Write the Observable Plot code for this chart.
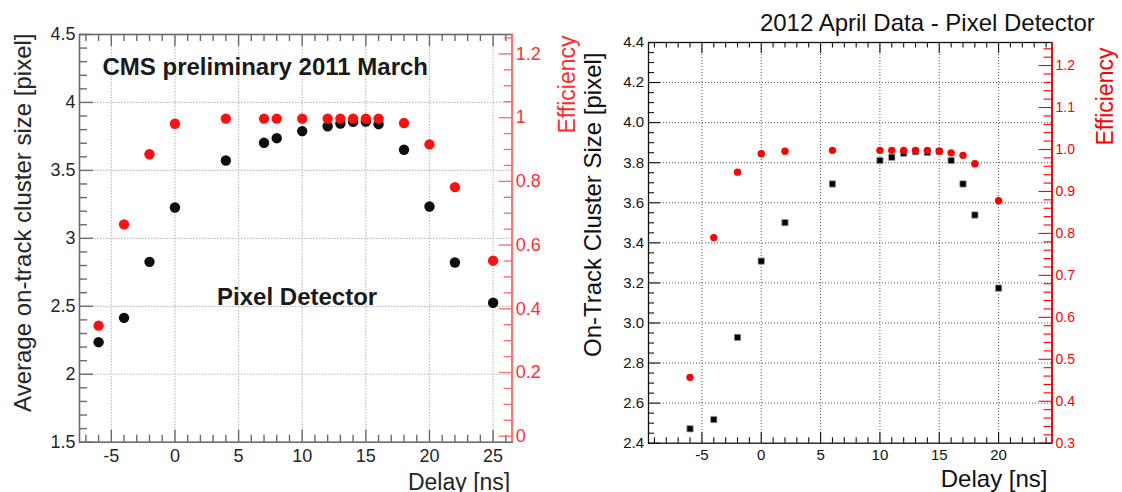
<!DOCTYPE html>
<html>
<head>
<meta charset="utf-8">
<script src="https://cdn.jsdelivr.net/npm/d3@7"></script>
<script src="https://cdn.jsdelivr.net/npm/@observablehq/plot@0.6"></script>
<style>
  body { margin: 0; background: #fff; }
  #wrap { position: relative; width: 1122px; height: 492px; overflow: hidden; background: #fff; }
</style>
</head>
<body>
<div id="wrap"></div>
<script>
// ---------------- Left panel (2011 March) ----------------
const leftDelay   = [-6, -4, -2, 0, 4, 7, 8, 10, 12, 13, 14, 15, 16, 18, 20, 22, 25];
const leftCluster = [2.236, 2.415, 2.827, 3.227, 3.573, 3.703, 3.737, 3.789, 3.825, 3.845, 3.857, 3.86, 3.84, 3.652, 3.234, 2.822, 2.526];
const leftEff     = [0.347, 0.665, 0.885, 0.981, 0.997, 0.997, 0.997, 0.997, 0.997, 0.997, 0.997, 0.997, 0.997, 0.983, 0.916, 0.782, 0.551];

const leftXDomain   = [-7.5, 26.5];
const leftYDomain   = [1.5, 4.5];
const leftEffDomain = [-0.0188, 1.261];
const leftXTicks    = [-5, 0, 5, 10, 15, 20, 25];
const leftXLabels   = ["-5", "0", "5", "10", "15", "20", "25"];
const leftYTicks    = [1.5, 2, 2.5, 3, 3.5, 4, 4.5];
const leftYLabels   = ["1.5", "2", "2.5", "3", "3.5", "4", "4.5"];
const leftEffTicks  = [0, 0.2, 0.4, 0.6, 0.8, 1, 1.2];
const leftEffLabels = ["0", "0.2", "0.4", "0.6", "0.8", "1", "1.2"];

// ---------------- Right panel (2012 April) ----------------
const rightDelay   = [-6, -4, -2, 0, 2, 6, 10, 11, 12, 13, 14, 15, 16, 17, 18, 20];
const rightCluster = [2.472, 2.518, 2.928, 3.309, 3.501, 3.694, 3.811, 3.827, 3.847, 3.855, 3.851, 3.857, 3.811, 3.694, 3.539, 3.174];
const rightEff     = [0.457, 0.790, 0.946, 0.990, 0.996, 0.998, 0.998, 0.998, 0.998, 0.998, 0.998, 0.996, 0.992, 0.986, 0.966, 0.878];

const rightXDomain   = [-9.5, 24.5];
const rightYDomain   = [2.4, 4.4];
const rightEffDomain = [0.3, 1.255];
const rightXTicks    = [-5, 0, 5, 10, 15, 20];
const rightXLabels   = ["-5", "0", "5", "10", "15", "20"];
const rightYTicks    = [2.4, 2.6, 2.8, 3.0, 3.2, 3.4, 3.6, 3.8, 4.0, 4.2, 4.4];
const rightYLabels   = ["2.4", "2.6", "2.8", "3.0", "3.2", "3.4", "3.6", "3.8", "4.0", "4.2", "4.4"];
const rightEffTicks  = [0.3, 0.4, 0.5, 0.6, 0.7, 0.8, 0.9, 1.0, 1.1, 1.2];
const rightEffLabels = ["0.3", "0.4", "0.5", "0.6", "0.7", "0.8", "0.9", "1.0", "1.1", "1.2"];

const FONT = "'Liberation Sans', Arial, Helvetica, sans-serif";

function panel(c) {
  const fw = c.width - c.ml - c.mr;
  const fh = c.height - c.mt - c.mb;
  const e2y = d3.scaleLinear().domain(c.effDomain).range(c.yDomain);
  const inX = v => v > c.xDomain[0] && v < c.xDomain[1];
  const inY = v => v > c.yDomain[0] && v < c.yDomain[1];
  const idx = d3.range(c.delay.length);
  const marks = [
    // dotted grid
    Plot.ruleX(c.xTicks.filter(inX), {x: d => d, stroke: c.gridColor, strokeDasharray: c.gridDash, strokeWidth: c.gridWidth}),
    Plot.ruleY(c.yTicks.filter(inY), {y: d => d, stroke: c.gridColor, strokeDasharray: c.gridDash, strokeWidth: c.gridWidth}),
    // ticks (inside the frame, ROOT style)
    Plot.tickX(c.xTicks, {x: d => d, insetTop: fh - c.tk.xMajor, stroke: c.axisColor, strokeWidth: c.tickWidth}),
    Plot.tickX(c.xMinor, {x: d => d, insetTop: fh - c.tk.xMinor, stroke: c.axisColor, strokeWidth: c.tickWidth}),
    Plot.tickX(c.xTicks, {x: d => d, insetBottom: fh - c.tk.xMajor, stroke: c.axisColor, strokeWidth: c.tickWidth}),
    Plot.tickX(c.xMinor, {x: d => d, insetBottom: fh - c.tk.xMinor, stroke: c.axisColor, strokeWidth: c.tickWidth}),
    Plot.tickY(c.yTicks, {y: d => d, insetRight: fw - c.tk.yMajor, stroke: c.axisColor, strokeWidth: c.tickWidth}),
    Plot.tickY(c.yMinor, {y: d => d, insetRight: fw - c.tk.yMinor, stroke: c.axisColor, strokeWidth: c.tickWidth}),
    Plot.tickY(c.effTicks, {y: d => e2y(d), insetLeft: fw - c.tk.eMajor, stroke: c.effAxisColor, strokeWidth: c.tickWidth}),
    Plot.tickY(c.effMinor, {y: d => e2y(d), insetLeft: fw - c.tk.eMinor, stroke: c.effAxisColor, strokeWidth: c.tickWidth}),
    // frame
    Plot.frame({stroke: c.axisColor, strokeWidth: c.frameWidth}),
    Plot.ruleX([c.xDomain[1]], {x: d => d, stroke: c.effAxisColor, strokeWidth: c.frameWidth + 0.3}),
    // tick labels
    Plot.text(c.xTicks, {x: d => d, text: (d, i) => c.xLabels[i], frameAnchor: "bottom", lineAnchor: "top", dy: c.xLabelPad, fontSize: c.tickFont, fill: c.textColor}),
    Plot.text(c.yTicks, {y: d => d, text: (d, i) => c.yLabels[i], frameAnchor: "left", textAnchor: "end", lineAnchor: "middle", dx: -c.yLabelPad, fontSize: c.tickFont, fill: c.textColor}),
    Plot.text(c.effTicks, {y: d => e2y(d), text: (d, i) => c.effLabels[i], frameAnchor: "right", textAnchor: "start", lineAnchor: "middle", dx: c.effLabelPad, fontSize: c.effTickFont, fill: c.effTextColor}),
    // data
    Plot.dot(idx, {x: i => c.delay[i], y: i => c.cluster[i], r: c.blackR, symbol: c.blackSymbol, fill: c.blackFill, stroke: c.blackStroke, strokeWidth: c.blackStrokeWidth}),
    Plot.dot(idx, {x: i => c.delay[i], y: i => e2y(c.eff[i]), r: c.redR, symbol: "circle", fill: c.redFill}),
    // axis titles
    Plot.text([c.xTitle], {text: d => d, frameAnchor: "bottom-right", textAnchor: "end", lineAnchor: "middle", dx: c.xTitlePos[0], dy: c.xTitlePos[1], fontSize: c.titleFont, fill: c.textColor}),
    Plot.text([c.yTitle], {text: d => d, frameAnchor: "top-left", textAnchor: "end", lineAnchor: "middle", rotate: -90, dx: c.yTitlePos[0], dy: c.yTitlePos[1], fontSize: c.yTitleFont, fill: c.textColor}),
    Plot.text(["Efficiency"], {text: d => d, frameAnchor: "top-right", textAnchor: "end", lineAnchor: "middle", rotate: -90, dx: c.effTitlePos[0], dy: c.effTitlePos[1], fontSize: c.effTitleFont, fill: c.effTitleColor}),
    ...c.extra.map(t => Plot.text([t.text], {text: d => d, frameAnchor: "top-left", textAnchor: t.anchor || "start", lineAnchor: "middle", dx: t.dx, dy: t.dy, fontSize: t.size, fontWeight: t.weight || "normal", fill: t.fill || c.textColor}))
  ];
  const svg = Plot.plot({
    width: c.width, height: c.height,
    marginLeft: c.ml, marginRight: c.mr, marginTop: c.mt, marginBottom: c.mb,
    x: {domain: c.xDomain, axis: null},
    y: {domain: c.yDomain, axis: null},
    style: {fontFamily: FONT, background: "none", overflow: "visible", position: "absolute", left: c.left + "px", top: "0px", maxWidth: "none"},
    marks
  });
  return svg;
}

const wrap = document.getElementById("wrap");

wrap.appendChild(panel({
  left: 0, width: 590, height: 492, ml: 79, mr: 78.3, mt: 34, mb: 50.3,
  xDomain: leftXDomain, yDomain: leftYDomain, effDomain: leftEffDomain,
  xTicks: leftXTicks, xLabels: leftXLabels, yTicks: leftYTicks, yLabels: leftYLabels,
  effTicks: leftEffTicks, effLabels: leftEffLabels,
  xMinor: d3.range(-7, 27).filter(v => v % 5 !== 0),
  yMinor: d3.range(15, 46).filter(v => v % 5 !== 0).map(v => v / 10),
  effMinor: d3.range(0, 26).filter(v => v % 4 !== 0).map(v => v * 0.05),
  tk: {xMajor: 12, xMinor: 7, yMajor: 14, yMinor: 8, eMajor: 13, eMinor: 8},
  gridColor: "#bdbdbd", gridDash: "1.5,1.5", gridWidth: 1.2,
  axisColor: "#6a6a6a", effAxisColor: "#ff7070", frameWidth: 1.6, tickWidth: 1.4,
  textColor: "#262626", effTextColor: "#ff3030", effTitleColor: "#ff2a2a",
  tickFont: 18, effTickFont: 18, xLabelPad: 7, yLabelPad: 4, effLabelPad: 3.5,
  delay: leftDelay, cluster: leftCluster, eff: leftEff,
  blackR: 5.2, blackSymbol: "circle", blackFill: "#0d0d0d", blackStroke: "none", blackStrokeWidth: 0,
  redR: 5.2, redFill: "#ff1010",
  xTitle: "Delay [ns]", xTitlePos: [-2, 40], titleFont: 23,
  yTitle: "Average on-track cluster size [pixel]", yTitlePos: [-56, -1], yTitleFont: 24,
  effTitlePos: [55.3, 1], effTitleFont: 23,
  extra: [
    {text: "CMS preliminary 2011 March", dx: 23, dy: 33, size: 24, weight: "bold", fill: "#1a1a1a"},
    {text: "Pixel Detector", dx: 137.6, dy: 263, size: 24, weight: "bold", fill: "#1a1a1a"}
  ]
}));

wrap.appendChild(panel({
  left: 561, width: 561, height: 492, ml: 87, mr: 70.5, mt: 42, mb: 49.3,
  xDomain: rightXDomain, yDomain: rightYDomain, effDomain: rightEffDomain,
  xTicks: rightXTicks, xLabels: rightXLabels, yTicks: rightYTicks, yLabels: rightYLabels,
  effTicks: rightEffTicks, effLabels: rightEffLabels,
  xMinor: d3.range(-9, 25).filter(v => v % 5 !== 0),
  yMinor: d3.range(48, 89).filter(v => v % 4 !== 0).map(v => v * 0.05),
  effMinor: d3.range(15, 63).filter(v => v % 5 !== 0).map(v => v * 0.02),
  tk: {xMajor: 11, xMinor: 5.5, yMajor: 12, yMinor: 6, eMajor: 13, eMinor: 8},
  gridColor: "#555", gridDash: "1,2", gridWidth: 1,
  axisColor: "#111", effAxisColor: "#ff0000", frameWidth: 1.3, tickWidth: 1.1,
  textColor: "#111", effTextColor: "#ff0000", effTitleColor: "#ff0000",
  tickFont: 15, effTickFont: 14, xLabelPad: 6, yLabelPad: 4.5, effLabelPad: 3.5,
  delay: rightDelay, cluster: rightCluster, eff: rightEff,
  blackR: 3.6, blackSymbol: "square", blackFill: "#000", blackStroke: "#aaa", blackStrokeWidth: 0.8,
  redR: 3.7, redFill: "#ff0000",
  xTitle: "Delay [ns]", xTitlePos: [-4.5, 36.3], titleFont: 24,
  yTitle: "On-Track Cluster Size [pixel]", yTitlePos: [-55, 10], yTitleFont: 24,
  effTitlePos: [53.5, 5], effTitleFont: 23,
  extra: [
    {text: "2012 April Data - Pixel Detector", dx: 111.4, dy: -19, size: 24, weight: "normal", fill: "#111"}
  ]
}));
</script>
</body>
</html>
